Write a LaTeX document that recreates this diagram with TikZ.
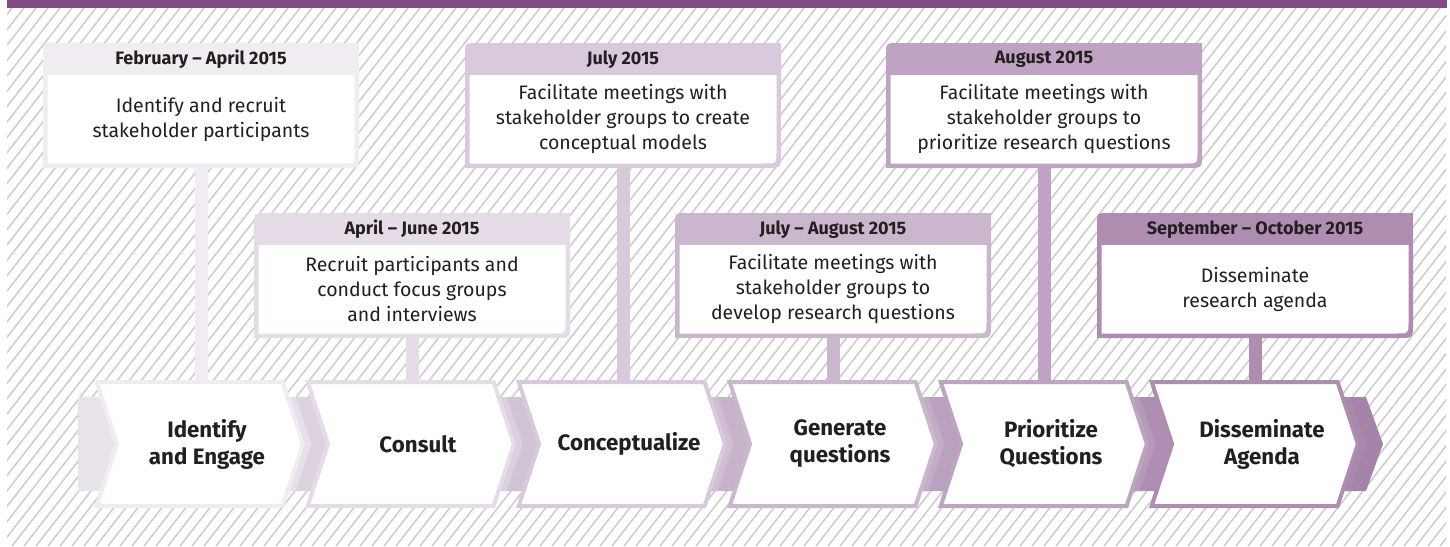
\documentclass[tikz,border=0pt]{standalone}
\usepackage{fontspec}
\setmainfont{Fira Sans}

\definecolor{ink}{HTML}{231F20}
\definecolor{topband}{HTML}{834B85}
\definecolor{hatchgray}{HTML}{CCCCCC}
% phase colours, light to dark
\definecolor{c1}{HTML}{F0ECF1}
\definecolor{c2}{HTML}{E6DCE8}
\definecolor{c3}{HTML}{D9C9DC}
\definecolor{c4}{HTML}{CBB7CD}
\definecolor{c5}{HTML}{BEA4C2}
\definecolor{c6}{HTML}{AE8DB1}
% arrow band colours
\definecolor{b0}{HTML}{E8E3EA}
\definecolor{b1}{HTML}{DDD3E0}
\definecolor{b2}{HTML}{D2C4D7}
\definecolor{b3}{HTML}{C7B4CB}
\definecolor{b4}{HTML}{BAA1BF}
\definecolor{b5}{HTML}{AE8FB3}
\definecolor{b6}{HTML}{A683A9}

\pgfdeclarelayer{bg}
\pgfdeclarelayer{mid}
\pgfsetlayers{bg,mid,main}

\tikzset{
  datetext/.style={font=\bfseries\fontsize{18}{21}\selectfont, text=ink, inner sep=0pt},
  bodytext/.style={font=\fontsize{19.5}{25}\selectfont, text=ink, align=center,
    inner sep=0pt, minimum width=300pt, minimum height=88pt},
  phasetext/.style={font=\bfseries\fontsize{22.3}{27}\selectfont, text=ink, align=center,
    inner sep=0pt, minimum width=170pt, minimum height=127pt},
  stem/.style={line width=13pt},
  hatch/.style={draw=hatchgray, line width=1.5pt}
}

% timeline card: name, left, top, colour, date, description
\newcommand{\timecard}[6]{%
  \fill[#4] (#2,#3+125) -- (#2,#3+12) .. controls (#2,#3) .. (#2+12,#3)
    -- (#2+316,#3) -- (#2+316,#3+111) .. controls (#2+316,#3+125) .. (#2+302,#3+125) -- cycle;
  \fill[white] (#2+4.5,#3+32) -- (#2+311.5,#3+32) -- (#2+311.5,#3+108)
    .. controls (#2+311.5,#3+120.5) .. (#2+299,#3+120.5) -- (#2+4.5,#3+120.5) -- cycle;
  \node[datetext] (#1-date) at (#2+158,#3+16.5) {#5};
  \node[bodytext] (#1) at (#2+158,#3+76.25) {#6};
}

% chevron phase block: name, left x, colour, label
\newcommand{\phaseblock}[4]{%
  \filldraw[fill=white, draw=#3, line width=4pt, line join=miter]
    (#2+2.7,382) -- (#2+188.6,382) -- (#2+208.9,444) -- (#2+188.6,506)
    -- (#2+2.7,506) -- (#2+23.1,444) -- cycle;
  \node[phasetext] (#1) at (#2+113,444) {#4};
}

% arrow band piece leaving a chevron: left x of chevron, band colour, phase colour
\newcommand{\bandpiece}[3]{%
  \fill[#2] (#1+150,397) -- (#1+217,397) -- (#1+234,444) -- (#1+217,491)
    -- (#1+150,491) -- cycle;
  \fill[#3!50!#2] (#1+195,397) -- (#1+201.5,397) -- (#1+217.5,444) -- (#1+201.5,491)
    -- (#1+195,491) -- (#1+211,444) -- cycle;
}

\begin{document}
\begin{tikzpicture}[x=1pt,y=-1pt]
\useasboundingbox (0,0) rectangle (1450,546);

% hatched background and top rule
\begin{pgfonlayer}{bg}
  \fill[white] (0,0) rectangle (1450,546);
  \begin{scope}
    \clip (7,8) rectangle (1446,546);
    \foreach \i in {-36,...,121} \draw[hatch] (\i*12,546) -- ++(420,-538);
  \end{scope}
  \fill[topband] (7,0) rectangle (1447,8);
\end{pgfonlayer}

% arrow band behind the chevrons
\begin{pgfonlayer}{mid}
  \fill[b0] (78,397) rectangle (130,491);
  \bandpiece{94}{b1}{c1}
  \bandpiece{305}{b2}{c2}
  \bandpiece{516}{b3}{c3}
  \bandpiece{727}{b4}{c4}
  \bandpiece{938}{b5}{c5}
  \bandpiece{1149}{b6}{c6}
\end{pgfonlayer}

% phase chevrons
\phaseblock{p1}{94}{c1}{Identify\\and Engage}
\phaseblock{p2}{305}{c2}{Consult}
\phaseblock{p3}{516}{c3}{Conceptualize}
\phaseblock{p4}{727}{c4}{Generate\\questions}
\phaseblock{p5}{938}{c5}{Prioritize\\Questions}
\phaseblock{p6}{1149}{c6}{Disseminate\\Agenda}

% timeline cards
\timecard{t1}{43}{43}{c1}{February – April 2015}{Identify and recruit\\stakeholder participants}
\timecard{t2}{254}{213}{c2}{April – June 2015}{Recruit participants and\\conduct focus groups\\and interviews}
\timecard{t3}{465}{43}{c3}{July 2015}{Facilitate meetings with\\stakeholder groups to create\\conceptual models}
\timecard{t4}{675}{213}{c4}{July – August 2015}{Facilitate meetings with\\stakeholder groups to\\develop research questions}
\timecard{t5}{886}{43}{c5}{August 2015}{Facilitate meetings with\\stakeholder groups to\\prioritize research questions}
\timecard{t6}{1097}{213}{c6}{September – October 2015}{Disseminate\\research agenda}

% stems joining each card to its phase
\begin{pgfonlayer}{mid}
  \foreach \k in {1,...,6}
    \draw[stem, c\k] (t\k.south) -- (t\k.south |- p\k.north);
\end{pgfonlayer}
\end{tikzpicture}
\end{document}
